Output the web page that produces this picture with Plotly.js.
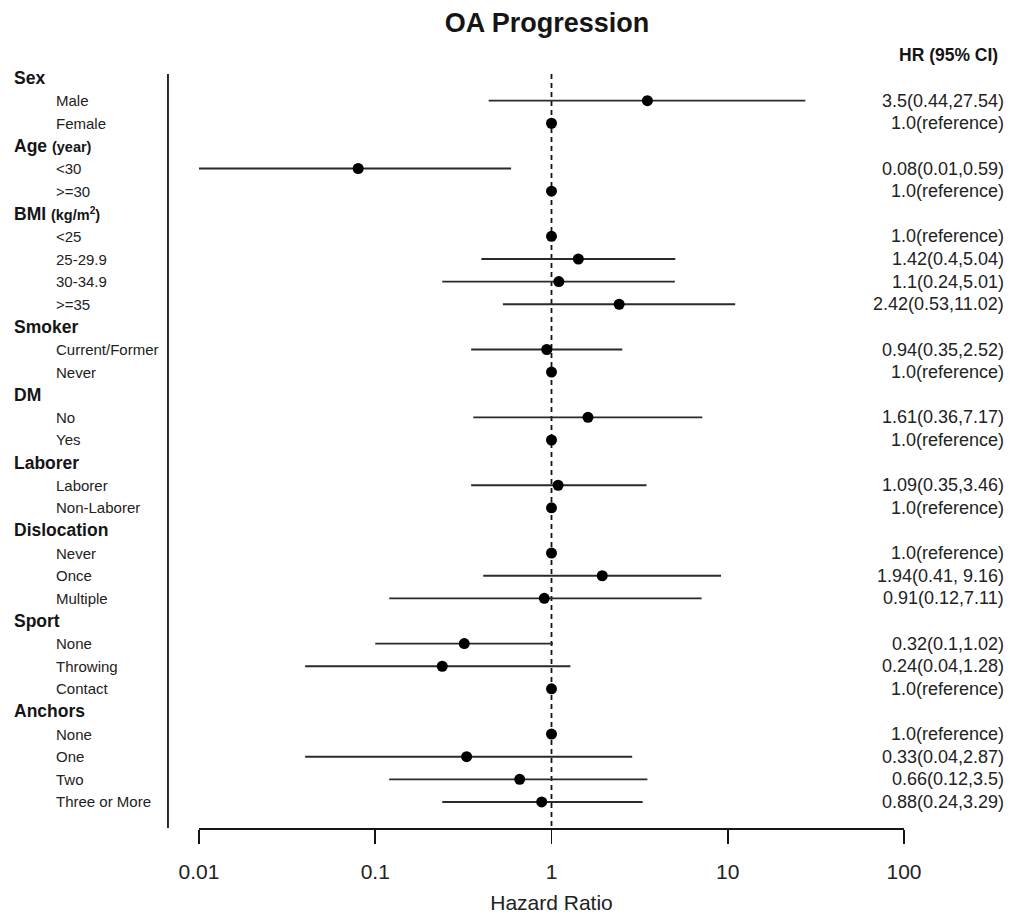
<!DOCTYPE html>
<html>
<head>
<meta charset="utf-8">
<script src="https://cdn.plot.ly/plotly-3.0.1.min.js"></script>
<style>html,body{margin:0;padding:0;background:#fff;}</style>
</head>
<body>
<div id="chart" style="width:1011px;height:914px;"></div>
<script>
// ---- data ----
const groupNames = ['Sex', 'Age', 'BMI', 'Smoker', 'DM', 'Laborer', 'Dislocation', 'Sport', 'Anchors'];
const groupUnits = ['', '(year)', '(kg/m<sup>2</sup>)', '', '', '', '', '', ''];
const groupItems = [
  ['Male', 'Female'],
  ['<30', '>=30'],
  ['<25', '25-29.9', '30-34.9', '>=35'],
  ['Current/Former', 'Never'],
  ['No', 'Yes'],
  ['Laborer', 'Non-Laborer'],
  ['Never', 'Once', 'Multiple'],
  ['None', 'Throwing', 'Contact'],
  ['None', 'One', 'Two', 'Three or More']
];
const hrValues = [
  [3.5, 1.0],
  [0.08, 1.0],
  [1.0, 1.42, 1.1, 2.42],
  [0.94, 1.0],
  [1.61, 1.0],
  [1.09, 1.0],
  [1.0, 1.94, 0.91],
  [0.32, 0.24, 1.0],
  [1.0, 0.33, 0.66, 0.88]
];
const ciLower = [
  [0.44, null],
  [0.01, null],
  [null, 0.4, 0.24, 0.53],
  [0.35, null],
  [0.36, null],
  [0.35, null],
  [null, 0.41, 0.12],
  [0.1, 0.04, null],
  [null, 0.04, 0.12, 0.24]
];
const ciUpper = [
  [27.54, null],
  [0.59, null],
  [null, 5.04, 5.01, 11.02],
  [2.52, null],
  [7.17, null],
  [3.46, null],
  [null, 9.16, 7.11],
  [1.02, 1.28, null],
  [null, 2.87, 3.5, 3.29]
];
const hrLabels = [
  ['3.5(0.44,27.54)', '1.0(reference)'],
  ['0.08(0.01,0.59)', '1.0(reference)'],
  ['1.0(reference)', '1.42(0.4,5.04)', '1.1(0.24,5.01)', '2.42(0.53,11.02)'],
  ['0.94(0.35,2.52)', '1.0(reference)'],
  ['1.61(0.36,7.17)', '1.0(reference)'],
  ['1.09(0.35,3.46)', '1.0(reference)'],
  ['1.0(reference)', '1.94(0.41, 9.16)', '0.91(0.12,7.11)'],
  ['0.32(0.1,1.02)', '0.24(0.04,1.28)', '1.0(reference)'],
  ['1.0(reference)', '0.33(0.04,2.87)', '0.66(0.12,3.5)', '0.88(0.24,3.29)']
];
const tickValues = [0.01, 0.1, 1, 10, 100];
const tickLabels = ['0.01', '0.1', '1', '10', '100'];
const refValue = 1;

// ---- build rows ----
const FONT = 'Liberation Sans, Arial, Helvetica, sans-serif';
const INK = '#151515';
const annotations = [];
const ptX = [], ptY = [];
const lnX = [], lnY = [];
let row = 0;
groupNames.forEach((g, gi) => {
  const unit = groupUnits[gi] ? ' <span style="font-size:14.5px">' + groupUnits[gi] + '</span>' : '';
  annotations.push({
    text: '<b>' + g + unit + '</b>', xref: 'paper', yref: 'y', x: -0.2652, y: row,
    xanchor: 'left', yanchor: 'middle', showarrow: false,
    font: {family: FONT, size: 17.5, color: INK}
  });
  row++;
  groupItems[gi].forEach((item, ii) => {
    annotations.push({
      text: item, xref: 'paper', yref: 'y', x: -0.2055, y: row,
      xanchor: 'left', yanchor: 'middle', showarrow: false,
      font: {family: FONT, size: 15, color: '#222'}
    });
    annotations.push({
      text: hrLabels[gi][ii], xref: 'paper', yref: 'y', x: 1.145, y: row,
      xanchor: 'right', yanchor: 'middle', showarrow: false,
      font: {family: FONT, size: 18, color: '#222'}
    });
    ptX.push(hrValues[gi][ii]); ptY.push(row);
    if (ciLower[gi][ii] !== null) {
      lnX.push(ciLower[gi][ii], ciUpper[gi][ii], null);
      lnY.push(row, row, null);
    }
    row++;
  });
});
const yTop = -0.177, yBottom = 33.15;

annotations.push({
  text: '<b>HR (95% CI)</b>', xref: 'paper', yref: 'paper', x: 1.136, y: 1.025,
  xanchor: 'right', yanchor: 'middle', showarrow: false,
  font: {family: FONT, size: 17.5, color: INK}
});

const traces = [
  {
    x: [refValue, refValue], y: [yTop, yBottom], mode: 'lines', type: 'scatter',
    line: {color: INK, width: 1.8, dash: '5px,4px'}, hoverinfo: 'skip', showlegend: false
  },
  {
    x: lnX, y: lnY, mode: 'lines', type: 'scatter', connectgaps: false,
    line: {color: '#2a2a2a', width: 1.8}, hoverinfo: 'skip', showlegend: false, cliponaxis: false
  },
  {
    x: ptX, y: ptY, mode: 'markers', type: 'scatter',
    marker: {color: '#000', size: 11}, showlegend: false, cliponaxis: false
  }
];

const layout = {
  width: 1011, height: 914,
  margin: {l: 199, r: 107, t: 74, b: 86},
  paper_bgcolor: '#fff', plot_bgcolor: '#fff',
  font: {family: FONT, color: INK},
  title: {
    text: 'OA Progression', x: 0.541, xanchor: 'center', y: 0.975, yanchor: 'middle',
    font: {family: FONT, size: 27, weight: 'bold', color: INK}
  },
  xaxis: {
    type: 'log', range: [-2, 2],
    tickvals: tickValues, ticktext: tickLabels,
    ticks: 'outside', ticklen: 14, tickwidth: 1.8, tickcolor: INK,
    ticklabelstandoff: 10,
    showline: true, linecolor: INK, linewidth: 1.8,
    showgrid: false, zeroline: false,
    tickfont: {family: FONT, size: 21, color: '#222'},
    title: {text: 'Hazard Ratio', font: {family: FONT, size: 21, color: '#222'}, standoff: 14}
  },
  yaxis: {
    range: [yBottom, yTop], showline: false, showticklabels: false,
    showgrid: false, zeroline: false, ticks: ''
  },
  shapes: [
    {type: 'line', xref: 'paper', yref: 'paper', x0: -0.044, x1: -0.044, y0: 0, y1: 1,
     line: {color: INK, width: 1.8}}
  ],
  annotations: annotations
};

Plotly.newPlot('chart', traces, layout, {staticPlot: true, displayModeBar: false});
</script>
</body>
</html>
